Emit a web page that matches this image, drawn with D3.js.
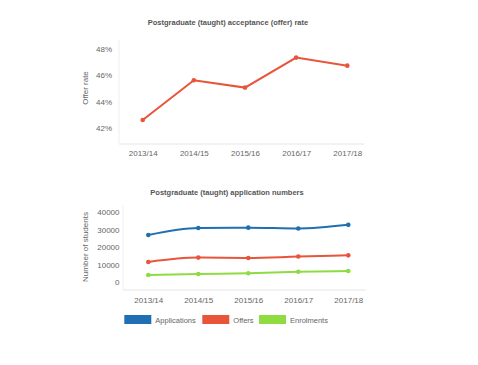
<!DOCTYPE html>
<html><head><meta charset="utf-8">
<script src="https://cdn.jsdelivr.net/npm/d3@7"></script>
<style>body{margin:0;background:#fff;}svg{display:block;font-family:"Liberation Sans",Arial,sans-serif;}</style>
</head><body>
<svg id="c" width="478" height="365"></svg>
<script>
const years = ["2013/14","2014/15","2015/16","2016/17","2017/18"];
const offerRate = [42.63, 45.64, 45.08, 47.35, 46.74];
const rateTicks = [42, 44, 46, 48];
const applications = [27000, 31000, 31200, 30700, 32800];
const offers = [11500, 14000, 13800, 14600, 15300];
const enrolments = [4000, 4600, 5000, 5900, 6300];
const countTicks = [0, 10000, 20000, 30000, 40000];
const seriesNames = ["Applications", "Offers", "Enrolments"];
const seriesColors = ["#1f6fb2", "#e8553a", "#8edc42"];

const svg = d3.select("#c");
svg.append("rect").attr("width",478).attr("height",365).attr("fill","#fff");
const textCol = "#666";

// ---------- Top chart ----------
const x1 = d3.scalePoint().domain(years).range([142.7, 347.3]);
const y1 = d3.scaleLinear().domain([42, 48]).range([128.3, 49]);
const g1 = svg.append("g");
g1.append("text").attr("x",228).attr("y",25).attr("text-anchor","middle")
  .attr("font-size",7.5).attr("font-weight","bold").attr("fill","#555")
  .text("Postgraduate (taught) acceptance (offer) rate");
g1.append("line").attr("x1",119).attr("x2",119).attr("y1",40).attr("y2",144).attr("stroke","#f0f0f0");
g1.append("line").attr("x1",119).attr("x2",364).attr("y1",144).attr("y2",144).attr("stroke","#e6e6e6");
const ya1 = g1.append("g").attr("transform","translate(112,0)")
  .call(d3.axisLeft(y1).tickValues(rateTicks).tickSize(0).tickPadding(0).tickFormat(d=>d+"%"));
ya1.select(".domain").remove();
ya1.selectAll("text").attr("font-size",8).attr("fill",textCol).attr("font-family","Liberation Sans, Arial");
const xa1 = g1.append("g").attr("transform","translate(0,150)")
  .call(d3.axisBottom(x1).tickSize(0).tickPadding(0));
xa1.select(".domain").remove();
xa1.selectAll("text").attr("font-size",8).attr("fill",textCol).attr("font-family","Liberation Sans, Arial");
g1.append("text").attr("transform","translate(88,88) rotate(-90)").attr("text-anchor","middle")
  .attr("font-size",8).attr("fill",textCol).text("Offer rate");
g1.append("path").datum(offerRate)
  .attr("d", d3.line().x((d,i)=>x1(years[i])).y(d=>y1(d)))
  .attr("fill","none").attr("stroke",seriesColors[1]).attr("stroke-width",2);
g1.selectAll("circle").data(offerRate).join("circle")
  .attr("cx",(d,i)=>x1(years[i])).attr("cy",d=>y1(d)).attr("r",2.3).attr("fill",seriesColors[1]);

// ---------- Bottom chart ----------
const x2 = d3.scalePoint().domain(years).range([148.3, 348.3]);
const y2 = d3.scaleLinear().domain([0, 40000]).range([282, 212.3]);
const g2 = svg.append("g");
g2.append("text").attr("x",227).attr("y",195).attr("text-anchor","middle")
  .attr("font-size",7.5).attr("font-weight","bold").attr("fill","#555")
  .text("Postgraduate (taught) application numbers");
g2.append("line").attr("x1",123).attr("x2",123).attr("y1",205).attr("y2",290).attr("stroke","#f0f0f0");
g2.append("line").attr("x1",123).attr("x2",366).attr("y1",290).attr("y2",290).attr("stroke","#e6e6e6");
const ya2 = g2.append("g").attr("transform","translate(119.5,0)")
  .call(d3.axisLeft(y2).tickValues(countTicks).tickSize(0).tickPadding(0).tickFormat(d=>String(d)));
ya2.select(".domain").remove();
ya2.selectAll("text").attr("font-size",8).attr("fill",textCol).attr("font-family","Liberation Sans, Arial");
const xa2 = g2.append("g").attr("transform","translate(0,297)")
  .call(d3.axisBottom(x2).tickSize(0).tickPadding(0));
xa2.select(".domain").remove();
xa2.selectAll("text").attr("font-size",8).attr("fill",textCol).attr("font-family","Liberation Sans, Arial");
g2.append("text").attr("transform","translate(88,247) rotate(-90)").attr("text-anchor","middle")
  .attr("font-size",8).attr("fill",textCol).text("Number of students");
const allSeries = [applications, offers, enrolments];
allSeries.forEach((s, k) => {
  g2.append("path").datum(s)
    .attr("d", d3.line().x((d,i)=>x2(years[i])).y(d=>y2(d)).curve(d3.curveMonotoneX))
    .attr("fill","none").attr("stroke",seriesColors[k]).attr("stroke-width",2);
  g2.append("g").selectAll("circle").data(s).join("circle")
    .attr("cx",(d,i)=>x2(years[i])).attr("cy",d=>y2(d)).attr("r",2.3).attr("fill",seriesColors[k]);
});

// Legend
const legX = [124.3, 202.3, 259];
const leg = g2.append("g");
seriesNames.forEach((n,k)=>{
  leg.append("rect").attr("x",legX[k]).attr("y",315).attr("width",27).attr("height",9).attr("fill",seriesColors[k]);
  leg.append("text").attr("x",legX[k]+31).attr("y",322.5).attr("font-size",7.5).attr("fill",textCol).text(n);
});
</script>
</body></html>
